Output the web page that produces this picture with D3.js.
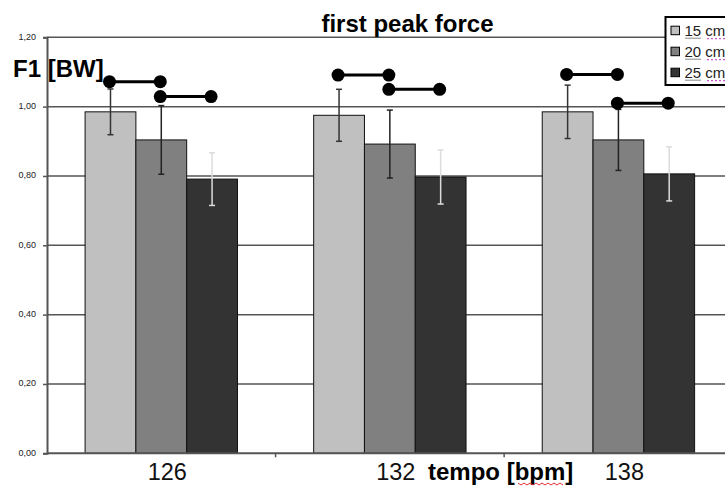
<!DOCTYPE html>
<html><head><meta charset="utf-8">
<script src="https://cdn.jsdelivr.net/npm/d3@7"></script>
<style>body{margin:0;background:#fff}svg{display:block}</style>
</head><body>
<svg id="c" width="725" height="486"></svg>
<script>
const categories = ["126", "132", "138"];
const seriesNames = ["15 cm", "20 cm", "25 cm"];
const means = [
  [0.985, 0.904, 0.791],
  [0.975, 0.892, 0.797],
  [0.985, 0.904, 0.806]
];
const errors = [
  [0.066, 0.099, 0.076],
  [0.075, 0.098, 0.078],
  [0.077, 0.088, 0.078]
];
const yTicks = [0, 0.2, 0.4, 0.6, 0.8, 1.0, 1.2];
const yTickLabels = ["0,00", "0,20", "0,40", "0,60", "0,80", "1,00", "1,20"];
// significance pairs: [category index, series a, series b, height]
const sigPairs = [
  [0, 0, 1, 1.072], [0, 1, 2, 1.029],
  [1, 0, 1, 1.091], [1, 1, 2, 1.050],
  [2, 0, 1, 1.093], [2, 1, 2, 1.010]
];
const barColors = ["#c0c0c0", "#808080", "#333333"];
const errColors = ["#333333", "#222222", "#dcdcdc"];

const svg = d3.select("#c");
const font = "'Liberation Sans', Arial, sans-serif";

const x0 = d3.scaleBand().domain(categories).range([47, 732.7]).paddingInner(0).paddingOuter(0);
const x1 = d3.scaleBand().domain(d3.range(3)).range([0, x0.bandwidth()]).paddingInner(0).paddingOuter(0.75);
const y = d3.scaleLinear().domain([0, 1.2]).range([453.3, 37.3]);

// gridlines
svg.append("g").selectAll("line").data(yTicks.slice(1)).join("line")
  .attr("x1", 47).attr("x2", 725).attr("y1", d => y(d)).attr("y2", d => y(d))
  .attr("stroke", "#555").attr("stroke-width", 1.5);

// y axis
const yAxis = d3.axisLeft(y).tickValues(yTicks).tickSize(4).tickFormat((d, i) => yTickLabels[i]);
const ga = svg.append("g").attr("transform", "translate(47,0)").call(yAxis);
ga.select(".domain").attr("stroke", "#555").attr("stroke-width", 2);
ga.selectAll(".tick line").attr("stroke", "#555").attr("stroke-width", 1.5);
ga.selectAll(".tick text").attr("font-family", font).attr("font-size", 9).attr("fill", "#222").attr("x", -11).attr("dy", "0.2em");

// bars
const groups = svg.append("g").selectAll("g").data(categories).join("g")
  .attr("transform", d => `translate(${x0(d)},0)`);
groups.selectAll("rect").data((d, i) => means[i].map((v, j) => ({v, j}))).join("rect")
  .attr("x", d => x1(d.j)).attr("width", x1.bandwidth())
  .attr("y", d => y(d.v)).attr("height", d => y(0) - y(d.v))
  .attr("fill", d => barColors[d.j]).attr("stroke", "#111").attr("stroke-width", 1);

// error bars
groups.each(function(c, i) {
  const g = d3.select(this);
  means[i].forEach((m, j) => {
    const cx = x1(j) + x1.bandwidth() / 2;
    const hi = y(m + errors[i][j]), lo = y(m - errors[i][j]);
    const col = errColors[j];
    g.append("line").attr("x1", cx).attr("x2", cx).attr("y1", hi).attr("y2", lo).attr("stroke", col).attr("stroke-width", 1.5);
    [hi, lo].forEach(yy => g.append("line").attr("x1", cx - 3).attr("x2", cx + 3).attr("y1", yy).attr("y2", yy).attr("stroke", col).attr("stroke-width", 1.5));
  });
});

// x axis
svg.append("line").attr("x1", 47).attr("x2", 725).attr("y1", y(0)).attr("y2", y(0)).attr("stroke", "#555").attr("stroke-width", 2);
svg.append("g").selectAll("line").data(categories.slice(1)).join("line")
  .attr("x1", d => x0(d)).attr("x2", d => x0(d)).attr("y1", y(0)).attr("y2", y(0) + 4)
  .attr("stroke", "#555").attr("stroke-width", 1.5);

// significance markers
const sg = svg.append("g");
sigPairs.forEach(([c, a, b, h]) => {
  const xa = x0(categories[c]) + x1(a) + x1.bandwidth() / 2 - 1;
  const xb = x0(categories[c]) + x1(b) + x1.bandwidth() / 2 - 1;
  sg.append("line").attr("x1", xa).attr("x2", xb).attr("y1", y(h)).attr("y2", y(h)).attr("stroke", "#000").attr("stroke-width", 3);
  sg.append("circle").attr("cx", xa).attr("cy", y(h)).attr("r", 6.5).attr("fill", "#000");
  sg.append("circle").attr("cx", xb).attr("cy", y(h)).attr("r", 6.5).attr("fill", "#000");
});

// category labels
svg.append("g").selectAll("text").data(categories).join("text")
  .attr("x", d => x0(d) + x0.bandwidth() / 2 + 6).attr("y", 480)
  .attr("text-anchor", "middle").attr("font-family", font).attr("font-size", 23.5).attr("fill", "#111")
  .text(d => d);

// axis titles
svg.append("text").attr("x", 428).attr("y", 480).attr("font-family", font).attr("font-weight", "bold")
  .attr("font-size", 24).attr("fill", "#000").text("tempo [bpm]");
svg.append("path").attr("d", d3.range(0, 48, 3).map((d, i) => (i ? "L" : "M") + (518 + d) + "," + (483 + (i % 2) * 2)).join(""))
  .attr("fill", "none").attr("stroke", "#e03030").attr("stroke-width", 1);
svg.append("text").attr("x", 13).attr("y", 77).attr("font-family", font).attr("font-weight", "bold")
  .attr("font-size", 24).attr("fill", "#000").text("F1 [BW]");
svg.append("text").attr("x", 407.5).attr("y", 31.5).attr("text-anchor", "middle").attr("font-family", font)
  .attr("font-weight", "bold").attr("font-size", 24).attr("fill", "#000").text("first peak force");

// legend
const lg = svg.append("g");
lg.append("rect").attr("x", 665.5).attr("y", 17).attr("width", 80).attr("height", 68)
  .attr("fill", "#fff").attr("stroke", "#000").attr("stroke-width", 2);
const li = lg.selectAll("g").data(seriesNames).join("g")
  .attr("transform", (d, i) => `translate(671,${30.7 + i * 21})`);
li.append("rect").attr("x", 0).attr("y", -4.5).attr("width", 8.5).attr("height", 8.5)
  .attr("fill", (d, i) => barColors[i]).attr("stroke", "#000").attr("stroke-width", 1);
li.append("text").attr("x", 13.5).attr("y", 5.5).attr("font-family", font).attr("font-size", 15).attr("fill", "#222").text(d => d);
li.append("line").attr("x1", 14).attr("x2", 30).attr("y1", 7.5).attr("y2", 7.5)
  .attr("stroke", "#888").attr("stroke-width", 1);
li.append("line").attr("x1", 36).attr("x2", 60).attr("y1", 8).attr("y2", 8)
  .attr("stroke", "#c030c0").attr("stroke-width", 1).attr("stroke-dasharray", "2,2");
</script>
</body></html>
